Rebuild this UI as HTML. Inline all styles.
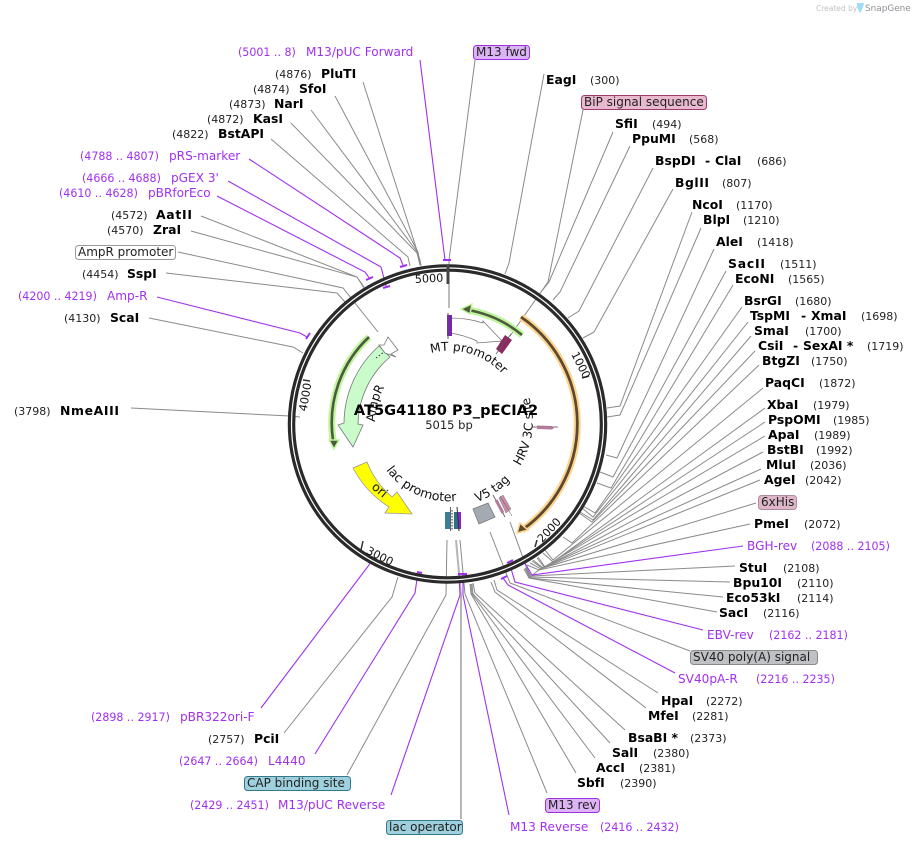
<!DOCTYPE html>
<html><head><meta charset="utf-8"><style>
html,body{margin:0;padding:0;background:#fff}
svg{display:block;font-family:"DejaVu Sans","Liberation Sans",sans-serif}
.n{font-weight:bold;font-size:12.4px;fill:#000}
.c{font-size:11px;fill:#222}
.p{font-size:12.1px;fill:#a030f0}
.pc{font-size:11.05px;fill:#a030f0}
.b{font-size:12px;fill:#222}
.g polyline{fill:none;stroke:#8a8a8a;stroke-width:1}
.v polyline{fill:none;stroke:#a030f0;stroke-width:1.1}
.v line{fill:none;stroke:#a030f0;stroke-width:2}
.t{font-size:11.200px;fill:#111}
.m{font-size:12.200px;fill:#111}
</style></head><body>
<svg width="914" height="845" viewBox="0 0 914 845" xmlns="http://www.w3.org/2000/svg">
<defs>
<path id="pMT" d="M431,353 A73,73 0 0 1 509,382"/>
<path id="pLac" d="M386,470 A77,77 0 0 0 462,500"/>
<path id="pV5" d="M477,502 A84,84 0 0 0 518,470"/>
<path id="pHRV" d="M520,466 A84,84 0 0 0 524,384"/>
<path id="pAmp" d="M375,422 A73,73 0 0 1 398,370"/>
</defs>

<text x="816" y="11" font-size="7.500" fill="#c2c2c2">Created by</text>
<path d="M857,3 L864,3 Q863,9 860,13 Q857,9 857,3Z" fill="#9fdcf5"/>
<text x="865" y="11" font-size="8.900" fill="#8b8f95">SnapGene</text>

<g class="g">
<polyline points="544,74 509,263 505,274"/>
<polyline points="583,110 548,282 510,336"/>
<polyline points="613,132 549,282 541,292"/>
<polyline points="630,146 560,292 553,300"/>
<polyline points="653,168 579,311 568,318"/>
<polyline points="673,189 594,332 583,338"/>
<polyline points="692,212 620,406 607,408"/>
<polyline points="701,228 620,415 607,417"/>
<polyline points="714,249 617,458 606,455"/>
<polyline points="726,271 613,477 600,472"/>
<polyline points="733,285 611,488 597,483"/>
<polyline points="742,307 595,513 583,506"/>
<polyline points="748,322 593,517 582,508"/>
<polyline points="751,336 593,520 580,512"/>
<polyline points="755,351 592,522 579,513"/>
<polyline points="759,365 572,543 563,537"/>
<polyline points="763,388 553,560 545,550"/>
<polyline points="765,408 553,562 543,553"/>
<polyline points="765,422 545,567 538,557"/>
<polyline points="765,436 544,567 537,558"/>
<polyline points="763,452 543,568 533,560"/>
<polyline points="761,469 542,568 532,561"/>
<polyline points="760,480 541,569 530,563"/>
<polyline points="756,503 540,569 530,577 510,522"/>
<polyline points="750,524 539,570 527,565"/>
<polyline points="735,566 531,576 526,567"/>
<polyline points="730,582 530,577 526,568"/>
<polyline points="723,597 530,578 525,568"/>
<polyline points="717,612 529,578 524,569"/>
<polyline points="690,651 510,583 490,532"/>
<polyline points="658,693 497,590 494,580"/>
<polyline points="646,708 495,592 491,582"/>
<polyline points="625,730 475,593 473,583"/>
<polyline points="610,743 473,594 472,584"/>
<polyline points="595,758 472,594 471,584"/>
<polyline points="576,773 471,594 470,584"/>
<polyline points="547,793 465,594 460,540"/>
<polyline points="347,775 446,595 447,540"/>
<polyline points="284,733 392,597 398,577"/>
<polyline points="131,408 290,416 300,417"/>
<polyline points="149,318 293,347 303,353"/>
<polyline points="166,273 337,293 345,302"/>
<polyline points="178,252 343,288 378,332"/>
<polyline points="191,231 357,277 364,288"/>
<polyline points="201,216 357,277 364,287"/>
<polyline points="271,139 408,257 410,266"/>
<polyline points="291,123 417,253 420,265"/>
<polyline points="311,110 418,253 420,265"/>
<polyline points="335,96 418,252 420,265"/>
<polyline points="363,82 420,260 421,266"/>
<polyline points="475,60 449,260 449,265"/>
<polyline points="461,819 461,595 456,540" style="stroke:#b5b5b5;stroke-width:2"/>
</g>
<g class="v">
<polyline points="420,60 445,260"/><line x1="443" y1="260" x2="451" y2="260"/>
<polyline points="249,159 400,258 403,265"/><line x1="400" y1="267" x2="407" y2="265"/>
<polyline points="228,181 381,267 386,286"/><line x1="383" y1="288" x2="390" y2="286"/>
<polyline points="217,196 365,272 370,279"/><line x1="366" y1="280" x2="373" y2="277"/>
<polyline points="157,297 300,333 307,337"/><line x1="306" y1="339" x2="310" y2="333"/>
<polyline points="743,546 532,575 523,560"/><line x1="520" y1="562" x2="526" y2="557"/>
<polyline points="703,630 515,582 510,565"/><line x1="507" y1="563" x2="513" y2="560"/>
<polyline points="675,673 508,585 503,578"/><line x1="501" y1="579" x2="507" y2="576"/>
<polyline points="509,815 463,595 463,574"/><line x1="458" y1="574" x2="467" y2="574"/>
<polyline points="391,795 460,595 459,574"/>
<polyline points="315,754 415,593 418,572"/><line x1="417" y1="572" x2="422" y2="573"/>
<polyline points="261,708 369,565 372,556"/>
</g>

<!-- ring -->
<circle cx="447.500" cy="424" r="156" fill="none" stroke="#2a2a2a" stroke-width="7.500"/>
<circle cx="447.500" cy="424" r="156" fill="none" stroke="#fff" stroke-width="1.200"/>

<!-- ticks -->
<line x1="448" y1="265" x2="448" y2="284" stroke="#444" stroke-width="3"/>
<line x1="449" y1="284" x2="449" y2="308" stroke="#bbb" stroke-width="2"/>
<line x1="582" y1="378" x2="589" y2="376" stroke="#333" stroke-width="1.500"/>
<line x1="537" y1="540" x2="535" y2="547" stroke="#333" stroke-width="1.500"/>
<line x1="363" y1="541" x2="361" y2="550" stroke="#333" stroke-width="1.500"/>
<line x1="303" y1="380" x2="310" y2="381" stroke="#333" stroke-width="1.500"/>
<text class="t" transform="translate(415,283) rotate(-3)">5000</text>
<text class="t" text-anchor="middle" transform="translate(581,365) rotate(63) translate(0,4)">1000</text>
<text class="t" text-anchor="middle" transform="translate(549,530) rotate(-47) translate(0,4)">2000</text>
<text class="t" text-anchor="middle" transform="translate(380,556) rotate(27) translate(0,4)">3000</text>
<text class="t" text-anchor="middle" transform="translate(305,397) rotate(-80) translate(0,4)">4000</text>

<!-- arcs -->
<path d="M522,335 A116,116 0 0 0 468,310" fill="none" stroke="#bff59c" stroke-width="7"/>
<path d="M522,335 A116,116 0 0 0 468,310" fill="none" stroke="#4d5a3e" stroke-width="2.600"/>
<polygon points="461,309 472,304 470,314" fill="#4d5a3e" stroke="#bff59c" stroke-width="1.500"/>
<path d="M521,317 A129.500,129.500 0 0 1 522,530" fill="none" stroke="#fdd48f" stroke-width="7"/>
<path d="M521,317 A129.500,129.500 0 0 1 522,530" fill="none" stroke="#5c4a2e" stroke-width="2.800"/>
<polygon points="517,533 520,523 528,530" fill="#5c4a2e" stroke="#fdd48f" stroke-width="1.500"/>
<path d="M369,337 A117.500,117.500 0 0 0 333,440" fill="none" stroke="#bff59c" stroke-width="7"/>
<path d="M369,337 A117.500,117.500 0 0 0 333,440" fill="none" stroke="#4d5a3e" stroke-width="2.600"/>
<polygon points="334,449 329,440 339,440" fill="#4d5a3e" stroke="#bff59c" stroke-width="1.500"/>

<!-- AmpR -->
<path d="M379,346 A104,104 0 0 0 344,423 L338,425 L353,447 L363,425 L358,424 A90,90 0 0 1 390,357 Z" fill="#c9fbcb" stroke="#777" stroke-width=".8"/>
<line x1="376" y1="358" x2="384" y2="352" stroke="#333" stroke-width="1" stroke-dasharray="1.500 2"/>
<polygon points="388,337 398,350 391,354 396,357 385,353 379,345 384,345" fill="#fff" stroke="#777" stroke-width=".8"/>

<!-- ori -->
<path d="M353,468 A104,104 0 0 0 389,507 L385,513 L412,514 L397,492 L392,497 A88,88 0 0 1 367,462 Z" fill="#ffff00" stroke="#999" stroke-width=".8"/>
<text class="m" transform="translate(371,488) rotate(40)">ori</text>

<!-- MT promoter -->
<path d="M450,318 Q468,318 483,323 L483,321 L502,341 L477,343 L477,341 Q464,335 450,333 Z" fill="#fff" stroke="#777" stroke-width=".8"/>
<rect x="447" y="315" width="5" height="21" fill="#7a22b5"/>
<line x1="448" y1="313" x2="448" y2="339" stroke="#555" stroke-width="1"/>
<polygon points="496,349 502,354 512,340 505,335" fill="#8f2a60"/>
<line x1="496" y1="354" x2="511" y2="334" stroke="#555" stroke-width=".8"/>

<!-- HRV -->
<line x1="532" y1="427" x2="558" y2="427" stroke="#444" stroke-width=".8"/>
<polygon points="537,425.500 552,426 554,428 552,429.500 537,429" fill="#b07a9a"/>

<!-- V5 -->
<polygon points="503,495 499,498 506,513 511,509" fill="#c98fa9" stroke="#777" stroke-width=".5"/>
<line x1="493" y1="495" x2="505" y2="517" stroke="#555" stroke-width=".8"/>
<line x1="496" y1="500" x2="503" y2="513" stroke="#b07a9a" stroke-width="3"/>
<line x1="500" y1="496" x2="512" y2="516" stroke="#555" stroke-width=".5"/>

<polygon points="473,509 488,503 495,517 479,524" fill="#a4aab2" stroke="#777" stroke-width=".8"/>

<!-- bundle -->
<rect x="445" y="512" width="5" height="17" fill="#3a7d94"/>
<rect x="450" y="512" width="4" height="17" fill="#f0f0f0"/>
<line x1="452" y1="510" x2="452" y2="530" stroke="#333" stroke-dasharray="1.500 1.500" stroke-width="1"/>
<rect x="454" y="512" width="4" height="17" fill="#2f6f84"/>
<rect x="458" y="512" width="3" height="17" fill="#8a22d0"/>
<line x1="450.500" y1="507" x2="450.500" y2="531" stroke="#666" stroke-width="1"/>
<line x1="457" y1="507" x2="459" y2="531" stroke="#333" stroke-width="1"/>

<!-- curved labels -->
<text class="m"><textPath href="#pMT">MT promoter</textPath></text>
<text class="m" style="font-size:12.600px"><textPath href="#pLac">lac promoter</textPath></text>
<text class="m"><textPath href="#pV5">V5 tag</textPath></text>
<text class="m"><textPath href="#pHRV">HRV 3C site</textPath></text>
<text class="m"><textPath href="#pAmp">AmpR</textPath></text>

<text x="446" y="415" text-anchor="middle" font-weight="bold" font-size="14.600" fill="#000">AT5G41180 P3_pECIA2</text>
<text x="449" y="429" text-anchor="middle" font-size="11.500" fill="#222">5015 bp</text>

<!-- boxes -->
<g stroke-width="1">
<rect x="473.500" y="45.500" width="56" height="14" rx="3" fill="#dcb3f5" stroke="#9b30e0"/>
<rect x="581.500" y="95.500" width="125" height="14" rx="3" fill="#e9b9cf" stroke="#9b3c6b"/>
<rect x="758.500" y="495.500" width="38" height="14" rx="3" fill="#ddb6c8" stroke="#b08aa0"/>
<rect x="690.500" y="650.500" width="127" height="14" rx="3" fill="#bfc1c4" stroke="#8a8a8a"/>
<rect x="545.500" y="798.500" width="54" height="14" rx="3" fill="#dcb3f5" stroke="#9b30e0"/>
<rect x="386.500" y="820.500" width="76" height="14" rx="3" fill="#9ed0dd" stroke="#35788c"/>
<rect x="244.500" y="776.500" width="106" height="14" rx="3" fill="#9ed0dd" stroke="#35788c"/>
<rect x="75.500" y="245.500" width="100" height="14" rx="3" fill="#fff" stroke="#999"/>
</g>
<text class="b" x="476" y="56">M13 fwd</text>
<text class="b" x="584" y="106">BiP signal sequence</text>
<text class="b" x="761" y="506">6xHis</text>
<text class="b" x="693" y="661">SV40 poly(A) signal</text>
<text class="b" x="548" y="809">M13 rev</text>
<text class="b" x="389" y="831">lac operator</text>
<text class="b" x="247" y="787">CAP binding site</text>
<text class="b" x="78" y="256">AmpR promoter</text>

<!-- right labels -->
<text class="n" x="546" y="84">EagI</text><text class="c" x="590" y="84">(300)</text>
<text class="n" x="615" y="128">SfiI</text><text class="c" x="652" y="128">(494)</text>
<text class="n" x="632" y="143">PpuMI</text><text class="c" x="689" y="143">(568)</text>
<text class="n" x="655" y="165">BspDI</text><text class="n" x="705" y="165">-</text><text class="n" x="715" y="165">ClaI</text><text class="c" x="757" y="165">(686)</text>
<text class="n" x="675" y="187" textLength="34">BglII</text><text class="c" x="722" y="187">(807)</text>
<text class="n" x="692" y="209">NcoI</text><text class="c" x="736" y="209">(1170)</text>
<text class="n" x="703" y="224">BlpI</text><text class="c" x="743" y="224">(1210)</text>
<text class="n" x="716" y="246">AleI</text><text class="c" x="757" y="246">(1418)</text>
<text class="n" x="728" y="268" textLength="37">SacII</text><text class="c" x="780" y="268">(1511)</text>
<text class="n" x="735" y="283">EcoNI</text><text class="c" x="788" y="283">(1565)</text>
<text class="n" x="744" y="305">BsrGI</text><text class="c" x="795" y="305">(1680)</text>
<text class="n" x="750" y="320">TspMI</text><text class="n" x="801" y="320">-</text><text class="n" x="811" y="320">XmaI</text><text class="c" x="861" y="320">(1698)</text>
<text class="n" x="754" y="335">SmaI</text><text class="c" x="805" y="335">(1700)</text>
<text class="n" x="758" y="350">CsiI</text><text class="n" x="793" y="350">-</text><text class="n" x="803" y="350">SexAI *</text><text class="c" x="867" y="350">(1719)</text>
<text class="n" x="762" y="365">BtgZI</text><text class="c" x="811" y="365">(1750)</text>
<text class="n" x="765" y="387">PaqCI</text><text class="c" x="819" y="387">(1872)</text>
<text class="n" x="767" y="409">XbaI</text><text class="c" x="813" y="409">(1979)</text>
<text class="n" x="768" y="424">PspOMI</text><text class="c" x="833" y="424">(1985)</text>
<text class="n" x="768" y="439">ApaI</text><text class="c" x="814" y="439">(1989)</text>
<text class="n" x="767" y="454">BstBI</text><text class="c" x="816" y="454">(1992)</text>
<text class="n" x="766" y="469">MluI</text><text class="c" x="810" y="469">(2036)</text>
<text class="n" x="764" y="484">AgeI</text><text class="c" x="805" y="484">(2042)</text>
<text class="n" x="754" y="528">PmeI</text><text class="c" x="804" y="528">(2072)</text>
<text class="p" x="747" y="550">BGH-rev</text><text class="pc" x="811" y="550">(2088 .. 2105)</text>
<text class="n" x="739" y="572">StuI</text><text class="c" x="783" y="572">(2108)</text>
<text class="n" x="733" y="587">Bpu10I</text><text class="c" x="797" y="587">(2110)</text>
<text class="n" x="726" y="602">Eco53kI</text><text class="c" x="797" y="602">(2114)</text>
<text class="n" x="719" y="617">SacI</text><text class="c" x="763" y="617">(2116)</text>
<text class="p" x="707" y="639">EBV-rev</text><text class="pc" x="769" y="639">(2162 .. 2181)</text>
<text class="p" x="678" y="683">SV40pA-R</text><text class="pc" x="756" y="683">(2216 .. 2235)</text>
<text class="n" x="661" y="705">HpaI</text><text class="c" x="706" y="705">(2272)</text>
<text class="n" x="648" y="720">MfeI</text><text class="c" x="692" y="720">(2281)</text>
<text class="n" x="628" y="742">BsaBI *</text><text class="c" x="690" y="742">(2373)</text>
<text class="n" x="612" y="757">SalI</text><text class="c" x="653" y="757">(2380)</text>
<text class="n" x="596" y="772">AccI</text><text class="c" x="639" y="772">(2381)</text>
<text class="n" x="577" y="787">SbfI</text><text class="c" x="620" y="787">(2390)</text>
<text class="p" x="510" y="831">M13 Reverse</text><text class="pc" x="600" y="831">(2416 .. 2432)</text>

<!-- left labels -->
<text class="pc" x="190" y="809">(2429 .. 2451)</text><text class="p" x="278" y="809">M13/pUC Reverse</text>
<text class="pc" x="179" y="765">(2647 .. 2664)</text><text class="p" x="268" y="765">L4440</text>
<text class="c" x="208" y="743">(2757)</text><text class="n" x="254" y="743">PciI</text>
<text class="pc" x="91" y="721">(2898 .. 2917)</text><text class="p" x="180" y="721">pBR322ori-F</text>
<text class="c" x="14" y="415">(3798)</text><text class="n" x="60" y="415" textLength="59">NmeAIII</text>
<text class="c" x="64" y="322">(4130)</text><text class="n" x="110" y="322">ScaI</text>
<text class="pc" x="18" y="300">(4200 .. 4219)</text><text class="p" x="107" y="300">Amp-R</text>
<text class="c" x="82" y="278">(4454)</text><text class="n" x="127" y="278">SspI</text>
<text class="c" x="107" y="234">(4570)</text><text class="n" x="153" y="234">ZraI</text>
<text class="c" x="111" y="219">(4572)</text><text class="n" x="156" y="219" textLength="36">AatII</text>
<text class="pc" x="59" y="197">(4610 .. 4628)</text><text class="p" x="148" y="197">pBRforEco</text>
<text class="pc" x="82" y="182">(4666 .. 4688)</text><text class="p" x="171" y="182">pGEX 3'</text>
<text class="pc" x="80" y="160">(4788 .. 4807)</text><text class="p" x="169" y="160">pRS-marker</text>
<text class="c" x="172" y="138">(4822)</text><text class="n" x="218" y="138">BstAPI</text>
<text class="c" x="207" y="123">(4872)</text><text class="n" x="253" y="123">KasI</text>
<text class="c" x="229" y="108">(4873)</text><text class="n" x="274" y="108">NarI</text>
<text class="c" x="253" y="93">(4874)</text><text class="n" x="299" y="93">SfoI</text>
<text class="c" x="275" y="78">(4876)</text><text class="n" x="321" y="78">PluTI</text>
<text class="pc" x="238" y="56">(5001 .. 8)</text><text class="p" x="306" y="56">M13/pUC Forward</text>
</svg>
</body></html>
